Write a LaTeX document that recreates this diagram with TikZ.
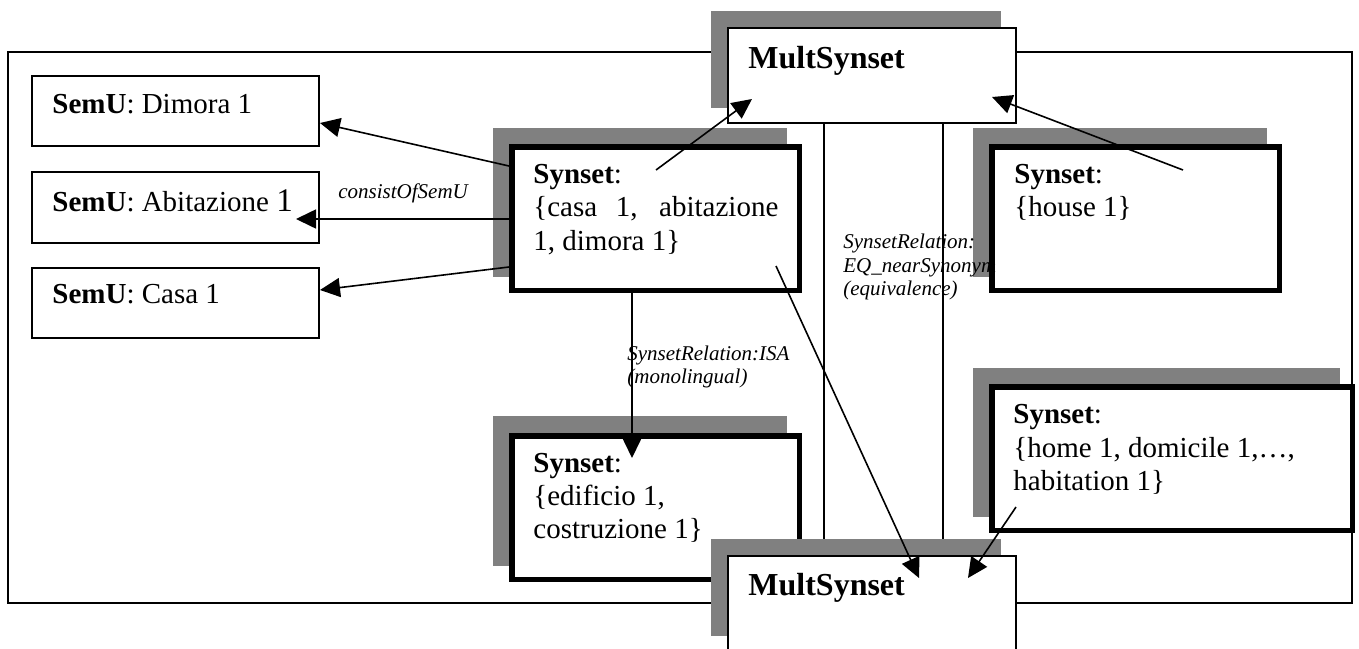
\documentclass[tikz,border=0pt]{standalone}
\usepackage{fontspec}
\setmainfont{Liberation Serif}
\usetikzlibrary{arrows.meta,fit}
\begin{document}
\begin{tikzpicture}[x=0.5pt,y=-0.5pt,
  frameline/.style={line width=1pt},
  semubox/.style={draw, line width=1pt, inner sep=0pt, outer sep=0pt},
  multbox/.style={draw, fill=white, line width=1pt, inner sep=0pt, outer sep=0pt},
  synbox/.style={draw, fill=white, line width=2.75pt, inner sep=0pt, outer sep=0pt},
  shade/.style={fill=black!50},
  txt/.style={anchor=base west, inner sep=0pt, font=\fontsize{14.5pt}{16.75pt}\selectfont},
  multtxt/.style={anchor=base west, inner sep=0pt, font=\fontsize{16pt}{18pt}\selectfont\bfseries},
  rel/.style={anchor=base west, inner sep=0pt, font=\fontsize{10.5pt}{12pt}\selectfont\itshape},
  link/.style={line width=0.8pt, -{Triangle[length=10pt,width=9.5pt]}},
  guide/.style={line width=0.8pt}]
\useasboundingbox (0,0) rectangle (1359,648);

% outer frame
\draw[frameline] (8,52) rectangle (1352,603);

% SemU boxes
\node[semubox, fit={(32,76) (319,146)}] (dimora) {};
\node[semubox, fit={(32,172) (319,243)}] (abit) {};
\node[semubox, fit={(32,268) (319,338)}] (casa) {};

% upper MultSynset
\fill[shade] (711,11) rectangle (1001,108);
\node[multbox, fit={(728,28) (1016,123)}] (topmult) {};

% Italian synset
\fill[shade] (493,128) rectangle (787,277);
\node[synbox, fit={(511.75,146.75) (799.25,290.25)}] (synit) {};

% English synset: house
\fill[shade] (973,128) rectangle (1267,277);
\node[synbox, fit={(991.75,146.75) (1279.25,290.25)}] (synhouse) {};

% English synset: home
\fill[shade] (973,368) rectangle (1340,517);
\node[synbox, fit={(991.75,386.75) (1352.25,530.25)}] (synhome) {};

% hypernym synset
\fill[shade] (493,416) rectangle (787,566);
\node[synbox, fit={(511.75,435.75) (799.25,579.25)}] (synedif) {};

% equivalence guides between the two MultSynsets
\coordinate (g1a) at (824,124); \coordinate (g1b) at (824,539);
\coordinate (g2a) at (943,124); \coordinate (g2b) at (943,539);
\draw[guide] (g1a) -- (g1b);
\draw[guide] (g2a) -- (g2b);

% lower MultSynset
\fill[shade] (711,539) rectangle (1001,636);
\node[multbox, fit={(728,556) (1016,651)}] (botmult) {};

% texts
\node[txt] (dimora-t) at (52,113) {\textbf{SemU}: Dimora 1};
\node[txt] (abit-t) at (52,211) {\textbf{SemU}: Abitazione {\fontsize{16.5pt}{18pt}\selectfont 1}};
\node[txt] (casa-t) at (52,303) {\textbf{SemU}: Casa 1};
\node[rel] (consist) at (338,198) {consistOfSemU};

\node[multtxt] (topmult-t) at (748,68) {MultSynset};
\node[multtxt] (botmult-t) at (748,595) {MultSynset};

\node[txt] (synit-1) at (533,183) {\textbf{Synset}:};
\node[txt] (synit-2) at (533,216) {\makebox[122.5pt][s]{\{casa 1, abitazione}};
\node[txt] (synit-3) at (533,250) {1, dimora 1\}};

\node[txt] (synhouse-1) at (1014,183) {\textbf{Synset}:};
\node[txt] (synhouse-2) at (1014,216) {\{house 1\}};

\node[txt] (synhome-1) at (1013,423) {\textbf{Synset}:};
\node[txt] (synhome-2) at (1013,457) {\{home 1, domicile 1,…,};
\node[txt] (synhome-3) at (1013,490) {habitation 1\}};

\node[txt] (synedif-1) at (533,472) {\textbf{Synset}:};
\node[txt] (synedif-2) at (533,505) {\{edificio 1,};
\node[txt] (synedif-3) at (533,538) {costruzione 1\}};

\node[rel] (isa-1) at (627,360) {SynsetRelation:ISA};
\node[rel] (isa-2) at (627,383) {(monolingual)};

\node[rel] (eq-1) at (843,248) {SynsetRelation:};
\node[rel] (eq-2) at (843,272) {EQ\_nearSynonym};
\node[rel] (eq-3) at (843,295) {(equivalence)};

% connector end points
\coordinate (it-w1) at (509,166);
\coordinate (it-w2) at (509,219);
\coordinate (it-w3) at (509,267);
\coordinate (dimora-in) at (320,123);
\coordinate (abit-in) at (296,219);
\coordinate (casa-in) at (320,290);
\coordinate (it-up) at (656,170);
\coordinate (topmult-l) at (752,99);
\coordinate (house-up) at (1183,170);
\coordinate (topmult-r) at (992,97);
\coordinate (it-down) at (632,293);
\coordinate (edif-in) at (632,458);
\coordinate (it-eq) at (776,266);
\coordinate (botmult-l) at (919,578);
\coordinate (home-dn) at (1016,507);
\coordinate (botmult-r) at (968,578);

% connectors
\draw[link] (it-w1) -- (dimora-in);
\draw[link] (it-w2) -- (abit-in);
\draw[link] (it-w3) -- (casa-in);
\draw[link] (it-up) -- (topmult-l);
\draw[link] (house-up) -- (topmult-r);
\draw[link] (it-down) -- (edif-in);
\draw[link] (it-eq) -- (botmult-l);
\draw[link] (home-dn) -- (botmult-r);
\end{tikzpicture}
\end{document}
